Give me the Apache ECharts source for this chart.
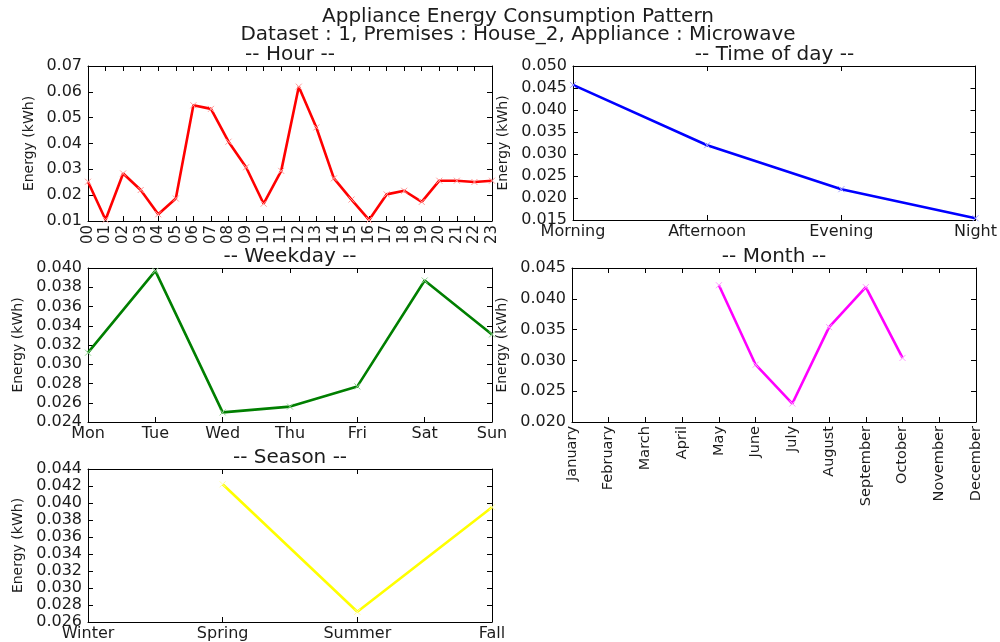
<!DOCTYPE html>
<html>
<head>
<meta charset="utf-8">
<title>Appliance Energy Consumption Pattern</title>
<script src="https://cdn.jsdelivr.net/npm/echarts@6/dist/echarts.min.js"></script>
<style>
  html, body { margin: 0; padding: 0; background: #ffffff; }
  #chart { width: 1000px; height: 642px; }
</style>
</head>
<body>
<div id="chart"></div>
<script>
// Category labels
const hours = ['00','01','02','03','04','05','06','07','08','09','10','11',
               '12','13','14','15','16','17','18','19','20','21','22','23'];
const timesOfDay = ['Morning', 'Afternoon', 'Evening', 'Night'];
const weekdays = ['Mon', 'Tue', 'Wed', 'Thu', 'Fri', 'Sat', 'Sun'];
const months = ['January','February','March','April','May','June','July',
                'August','September','October','November','December'];
const seasons = ['Winter', 'Spring', 'Summer', 'Fall'];

// Mean energy per bucket (kWh); null = no readings
const hourEnergy = [0.0252, 0.0105, 0.0284, 0.0220, 0.0126, 0.0187, 0.0548, 0.0534,
                    0.0407, 0.0308, 0.0167, 0.0294, 0.0620, 0.0462, 0.0265, 0.0183,
                    0.0104, 0.0203, 0.0217, 0.0174, 0.0256, 0.0256, 0.0251, 0.0256];
const timeOfDayEnergy = [0.0457, 0.0320, 0.0220, 0.0154];
const weekdayEnergy = [0.0312, 0.0397, 0.0250, 0.0256, 0.0277, 0.0387, 0.0331];
const monthEnergy = [null, null, null, null, 0.0422, 0.0293, 0.0230, 0.0354, 0.0419, 0.0304, null, null];
const seasonEnergy = [null, 0.0422, 0.0272, 0.0395];

// Y-axis ranges: [min, max, step, decimals]
const hourRange = [0.01, 0.07, 0.01, 2];
const timeOfDayRange = [0.015, 0.050, 0.005, 3];
const weekdayRange = [0.024, 0.040, 0.002, 3];
const monthRange = [0.020, 0.045, 0.005, 3];
const seasonRange = [0.026, 0.044, 0.002, 3];

const TEXT = '#1c1c1c';
const FONT = 'DejaVu Sans';
const TITLE_SIZE = 20;

const panels = [
  { name: '-- Hour --', cats: hours, data: hourEnergy, range: hourRange, color: '#ff0000', mark: '#ff9a9a',
    box: { left: 88, top: 66, width: 404, height: 155 }, xRotate: 90, xFont: 15, nameGap: 52 },
  { name: '-- Time of day --', cats: timesOfDay, data: timeOfDayEnergy, range: timeOfDayRange, color: '#0000ff', mark: '#9a9aff',
    box: { left: 573, top: 66, width: 403, height: 154 }, xRotate: 0, xFont: 16, nameGap: 63 },
  { name: '-- Weekday --', cats: weekdays, data: weekdayEnergy, range: weekdayRange, color: '#007f00', mark: '#8fd08f',
    box: { left: 88, top: 268, width: 404, height: 154 }, xRotate: 0, xFont: 16, nameGap: 63 },
  { name: '-- Month --', cats: months, data: monthEnergy, range: monthRange, color: '#ff00ff', mark: '#ff9aff',
    box: { left: 572, top: 268, width: 404, height: 154 }, xRotate: 90, xFont: 14.5, nameGap: 63 },
  { name: '-- Season --', cats: seasons, data: seasonEnergy, range: seasonRange, color: '#ffff00', mark: '#ffffa0',
    box: { left: 88, top: 469, width: 404, height: 153 }, xRotate: 0, xFont: 16, nameGap: 63 }
];

const frameLine = { show: true, lineStyle: { color: '#000000', width: 1 } };
const innerTick = { show: true, inside: true, length: 5, lineStyle: { color: '#000000', width: 1 } };
const crossMark = 'path://M0,0L10,10M10,0L0,10';
const titleStyle = { fontFamily: FONT, fontSize: TITLE_SIZE, fontWeight: 'normal', color: TEXT };

const option = {
  backgroundColor: '#ffffff',
  animation: false,
  title: [
    { text: 'Appliance Energy Consumption Pattern', left: 518, top: 7, textAlign: 'center', padding: 0, textStyle: titleStyle },
    { text: 'Dataset : 1, Premises : House_2, Appliance : Microwave', left: 518, top: 25, textAlign: 'center', padding: 0, textStyle: titleStyle }
  ],
  grid: [], xAxis: [], yAxis: [], series: []
};

panels.forEach((p, i) => {
  const [lo, hi, step, dec] = p.range;
  option.grid.push(Object.assign({ containLabel: false }, p.box));
  option.title.push({
    text: p.name, left: p.box.left + p.box.width / 2, top: p.box.top - 21, textAlign: 'center', padding: 0,
    textStyle: titleStyle
  });
  // bottom category axis with labels, plus a bare top axis to close the frame
  option.xAxis.push({
    type: 'category', gridIndex: i, data: p.cats, boundaryGap: false, position: 'bottom',
    axisLine: frameLine, axisTick: Object.assign({ alignWithLabel: true, interval: 0 }, innerTick),
    axisLabel: { interval: 0, rotate: p.xRotate, color: TEXT, fontFamily: FONT, fontSize: p.xFont, margin: 4 },
    splitLine: { show: false }
  });
  option.xAxis.push({
    type: 'category', gridIndex: i, data: p.cats, boundaryGap: false, position: 'top',
    axisLine: frameLine, axisTick: Object.assign({ interval: 0 }, innerTick),
    axisLabel: { show: false }, splitLine: { show: false }
  });
  option.yAxis.push({
    type: 'value', gridIndex: i, min: lo, max: hi, interval: step, position: 'left',
    name: 'Energy (kWh)', nameLocation: 'middle', nameGap: p.nameGap,
    nameTextStyle: { fontFamily: FONT, fontSize: 14, color: TEXT },
    axisLine: frameLine, axisTick: innerTick,
    axisLabel: { color: TEXT, fontFamily: FONT, fontSize: 16, margin: 6, formatter: v => v.toFixed(dec) },
    splitLine: { show: false }
  });
  option.yAxis.push({
    type: 'value', gridIndex: i, min: lo, max: hi, interval: step, position: 'right',
    axisLine: frameLine, axisTick: innerTick, axisLabel: { show: false }, splitLine: { show: false }
  });
  option.series.push({
    type: 'line', xAxisIndex: 2 * i, yAxisIndex: 2 * i,
    data: p.data.map(v => (v === null ? '-' : v)),
    connectNulls: false,
    lineStyle: { color: p.color, width: 2.6 },
    itemStyle: { color: 'rgba(0,0,0,0)', borderColor: p.mark, borderWidth: 1 },
    symbol: crossMark, symbolSize: 6, showSymbol: true,
    emphasis: { disabled: true }, silent: true
  });
});

const chart = echarts.init(document.getElementById('chart'), null, { renderer: 'canvas' });
chart.setOption(option);
</script>
</body>
</html>
